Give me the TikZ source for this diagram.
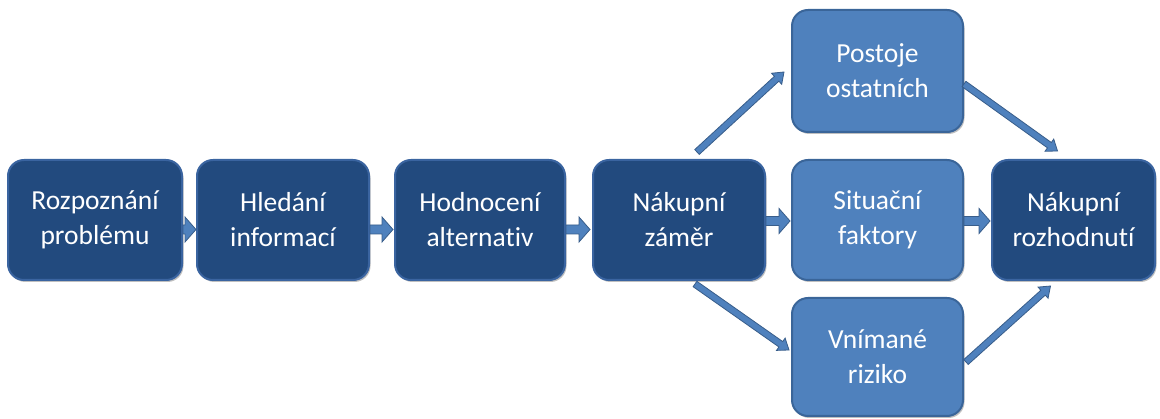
\documentclass[tikz,border=0pt]{standalone}
\usepackage{fontspec}
\setmainfont{Carlito}[Ligatures={NoCommon}]
\usetikzlibrary{calc,shadows}
\definecolor{darkfill}{HTML}{224A7E}
\definecolor{darkedge}{HTML}{3A64A0}
\definecolor{lightfill}{HTML}{4F81BD}
\definecolor{lightedge}{HTML}{3A6599}
\definecolor{arrowfill}{HTML}{4F81BD}
\definecolor{arrowedge}{HTML}{385D8A}
% #1 style, #2 shaft half width, #3 head half width, #4 head length, #5 start, #6 end
\newcommand\blockarr[6]{%
  \draw[#1] let \p1=#5, \p2=#6, \p3=($(\p2)!#4!(\p1)$) in
    ($(\p1)!#2!90:(\p2)$) -- ($(\p3)!#2!90:(\p2)$) -- ($(\p3)!#3!90:(\p2)$) -- (\p2)
    -- ($(\p3)!#3!-90:(\p2)$) -- ($(\p3)!#2!-90:(\p2)$) -- ($(\p1)!#2!-90:(\p2)$) -- cycle;}
\begin{document}
\begin{tikzpicture}[x=1pt,y=-1pt,
  box/.style={rounded corners=16pt, line width=2pt, minimum height=120pt,
    text=white, align=center, font=\fontsize{27.5}{35}\selectfont, inner sep=0pt,
    drop shadow={shadow xshift=1.5pt, shadow yshift=-2pt, opacity=0.25, fill=black}},
  dark/.style={box, fill=darkfill, draw=darkedge},
  light/.style={box, fill=lightfill, draw=lightedge},
  blockarrow/.style={fill=arrowfill, draw=arrowedge, line width=0.8pt, line join=miter}]
\useasboundingbox (0,0) rectangle (1160,419);
\node[dark, minimum width=174pt] (n1) at (95,220) {Rozpoznání\\problému};
\node[dark, minimum width=172pt] (n2) at (283,220) {Hledání\\informací};
\node[dark, minimum width=170pt] (n3) at (480,220) {Hodnocení\\alternat\kern0pt iv};
\node[dark, minimum width=172pt] (n4) at (679,220) {Nákupní\\záměr};
\node[light, minimum width=171pt, minimum height=122pt] (top) at (877.5,71) {Postoje\\ostatních};
\node[light, minimum width=171pt] (mid) at (877.5,220) {Situační\\faktory};
\node[light, minimum width=171pt, minimum height=118pt] (bot) at (877.5,357) {Vnímané\\riziko};
\node[dark, minimum width=163pt] (last) at (1073.5,220) {Nákupní\\rozhodnut\kern0pt í};
% horizontal block arrows
\blockarr{blockarrow}{4.5pt}{12.5pt}{11pt}{($(n1.east)+(0,9.5)$)}{($(n2.west)+(0,9.5)$)}
\blockarr{blockarrow}{4.5pt}{12.5pt}{11pt}{($(n2.east)+(0,9.5)$)}{($(n3.west)+(-1,9.5)$)}
\blockarr{blockarrow}{4.5pt}{12.5pt}{11pt}{($(n3.east)+(0,9.5)$)}{($(n4.west)+(-2,9.5)$)}
\blockarr{blockarrow}{4.5pt}{12.5pt}{11pt}{($(n4.east)+(0,1)$)}{($(mid.west)+(-1,1)$)}
\blockarr{blockarrow}{4.5pt}{12.5pt}{11pt}{($(mid.east)+(0,1)$)}{($(last.west)+(-1,1)$)}
% diagonal arrows
\blockarr{blockarrow}{3.3pt}{7.5pt}{10pt}{($(n4.north)+(18,-7)$)}{($(top.west)+(-7,1)$)}
\blockarr{blockarrow}{3.3pt}{7.5pt}{10pt}{($(top.east)+(0,13)$)}{($(last.north)+(-16,-8)$)}
\blockarr{blockarrow}{3.3pt}{7.5pt}{10pt}{($(n4.south)+(16,3)$)}{($(bot.west)+(-2,-7)$)}
\blockarr{blockarrow}{3.3pt}{7.5pt}{10pt}{($(bot.east)+(2,5)$)}{($(last.south)+(-23,5)$)}
\end{tikzpicture}
\end{document}
